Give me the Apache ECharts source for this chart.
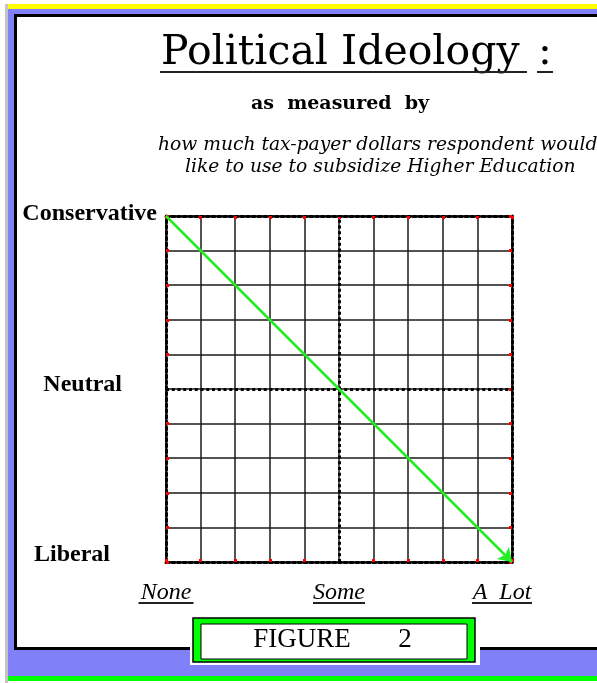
<!DOCTYPE html>
<html>
<head>
<meta charset="utf-8">
<script src="https://cdn.jsdelivr.net/npm/echarts@6/dist/echarts.min.js"></script>
<style>
  html, body { margin: 0; padding: 0; background: #fff; }
  #chart { width: 597px; height: 683px; }
</style>
</head>
<body>
<div id="chart"></div>
<script>
// tax-payer money for higher education (x) vs political ideology (y)
const spending = [0, 10];
const ideology = [10, 0];

const xLabelValues = [0, 5, 10];
const xLabels = ['None', 'Some', 'A  Lot'];
const yLabelValues = [0, 5, 10];
const yLabels = ['Liberal', 'Neutral', 'Conservative'];

const gridLines = [5]; // the heavy middle lines

var chartDom = document.getElementById('chart');
var myChart = echarts.init(chartDom, null, { renderer: 'canvas' });

const dotted = [3, 2.75];
const blue = '#8080f8';
const serif = '"Liberation Serif", "Times New Roman", serif';

function edgeAxis(position, show) {
  return {
    type: 'value',
    min: 0,
    max: 10,
    interval: 1,
    position: position,
    axisLine: { show: true, onZero: false, lineStyle: { color: '#000', width: 3, type: dotted } },
    axisTick: { show: true, inside: true, length: 3, lineStyle: { color: '#ff0000', width: 3 } },
    splitLine: { show: show, lineStyle: { color: '#1a1a1a', width: 1.5 } },
    axisLabel: { show: false }
  };
}

const xBottom = edgeAxis('bottom', true);
const xText = { fontFamily: serif, fontStyle: 'italic', fontSize: 24, color: '#000', lineHeight: 18 };
xBottom.axisLabel = {
  show: true,
  margin: 22,
  formatter: function (v) {
    const i = xLabelValues.indexOf(v);
    if (i < 0) return '';
    return '{t|' + xLabels[i] + '}' + (i === 2 ? '{s|}' : '') +
      '\n{u' + i + '|}' + (i === 2 ? '{s|}' : '');
  },
  rich: {
    t: xText,
    u0: { width: 55, height: 2, lineHeight: 2, backgroundColor: '#222' },
    u1: { width: 52, height: 2, lineHeight: 2, backgroundColor: '#222' },
    u2: { width: 60, height: 2, lineHeight: 2, backgroundColor: '#222' },
    s: { width: 20, height: 2 }
  }
};

const yLeft = edgeAxis('left', true);
const yPad = [[0, 47, 14, 0], [0, 35, 8, 0], [0, 0, 4, 0]];
const yRich = {};
yLabels.forEach(function (l, i) {
  yRich['y' + i] = { fontFamily: serif, fontWeight: 'bold', fontSize: 24, color: '#000', padding: yPad[i] };
});
yLeft.axisLabel = {
  show: true,
  margin: 9,
  formatter: function (v) {
    const i = yLabelValues.indexOf(v);
    return i < 0 ? '' : '{y' + i + '|' + yLabels[i] + '}';
  },
  rich: yRich
};

function txt(text, x, y, font, align) {
  return {
    type: 'text',
    style: { text: text, x: x, y: y, font: font, fill: '#000', align: align || 'center', verticalAlign: 'middle' }
  };
}
function box(x, y, w, h, fill, stroke, lw) {
  return {
    type: 'rect',
    shape: { x: x, y: y, width: w, height: h },
    style: { fill: fill, stroke: stroke || null, lineWidth: lw || 0 }
  };
}
function hline(x1, x2, y, w) {
  return { type: 'line', shape: { x1: x1, y1: y, x2: x2, y2: y }, style: { stroke: '#222', lineWidth: w } };
}

const option = {
  backgroundColor: '#fff',
  animation: false,
  grid: { left: 166, top: 216, width: 346, height: 346, outerBoundsMode: 'none' },
  xAxis: [xBottom, edgeAxis('top', false)],
  yAxis: [yLeft, edgeAxis('right', false)],
  graphic: [
    // page frame
    box(8, 4, 589, 5, '#ffff00'),
    box(5, 4, 3, 679, '#c4c4c4'),
    box(8, 9, 589, 5, blue),
    box(8, 9, 6, 667, blue),
    box(8, 650, 589, 26, blue),
    box(8, 676, 589, 5, '#00ff00'),
    box(14, 14, 583, 3, '#000'),
    box(14, 14, 3, 636, '#000'),
    box(14, 647, 583, 3, '#000'),
    // titles
    txt('Political Ideology', 161, 53, '41px "DejaVu Serif"', 'left'),
    txt(':', 545, 53, '41px "DejaVu Serif"'),
    hline(160, 527, 72, 2),
    hline(537, 553, 72, 2),
    txt('as  measured  by', 340, 104, 'bold 19px "DejaVu Serif"'),
    txt('how much tax-payer dollars respondent would', 158, 145, 'italic 18.7px "DejaVu Serif"', 'left'),
    txt('like to use to subsidize Higher Education', 185, 167, 'italic 18.7px "DejaVu Serif"', 'left'),
    // figure caption box
    box(190, 614, 290, 51, '#fff'),
    box(193, 618, 282, 44, '#00ff00', '#000', 1.5),
    box(201, 624, 266, 35, '#fff', '#000', 1),
    txt('FIGURE', 302, 640, '27px "Liberation Serif"'),
    txt('2', 405, 640, '27px "Liberation Serif"')
  ],
  series: [
    {
      type: 'line',
      data: [],
      silent: true,
      markLine: {
        silent: true,
        symbol: 'none',
        label: { show: false },
        lineStyle: { color: '#000', width: 3, type: dotted },
        data: gridLines.map(function (v) { return { xAxis: v }; })
          .concat(gridLines.map(function (v) { return { yAxis: v }; }))
      }
    },
    {
      type: 'lines',
      coordinateSystem: 'cartesian2d',
      z: 5,
      symbol: ['none', 'arrow'],
      symbolSize: 13,
      lineStyle: { color: '#22ee22', width: 2.5, opacity: 1 },
      data: [{ coords: spending.map(function (x, i) { return [x, ideology[i]]; }) }]
    }
  ]
};

myChart.setOption(option);
</script>
</body>
</html>
